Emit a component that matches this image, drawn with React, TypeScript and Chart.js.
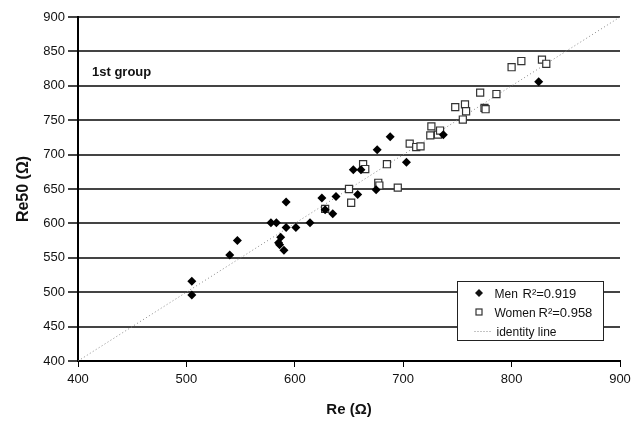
import React, { useEffect, useRef } from 'react';
import { Chart, registerables } from 'chart.js';

Chart.register(...registerables);

// ---- data ----
const menRe = [505, 505, 540, 547, 578, 583, 592, 592, 601, 587, 585, 586, 590, 614, 625, 628, 635, 638, 654, 661, 658, 675, 676, 688, 703, 737, 825];
const menRe50 = [516, 496, 554, 575, 601, 601, 631, 594, 594, 580, 572, 569, 561, 601, 637, 620, 614, 639, 678, 678, 642, 649, 707, 726, 689, 729, 806];

const womenRe = [628, 652, 650, 663, 665, 685, 677, 678, 695, 706, 712, 716, 725, 726, 732, 734, 755, 748, 757, 758, 771, 775, 776, 786, 800, 809, 828, 832];
const womenRe50 = [621, 630, 650, 686, 679, 686, 659, 655, 652, 716, 711, 712, 728, 741, 729, 735, 751, 769, 773, 763, 790, 768, 766, 788, 827, 836, 838, 832];

const identityRe = [400, 900];
const identityRe50 = [400, 900];

const axisMin = 400;
const axisMax = 900;
const xStep = 100;
const yStep = 50;

const xTitle = 'Re (Ω)';
const yTitle = 'Re50 (Ω)';
const groupLabel = '1st group';
const legendItems = [
  { name: 'Men', r2: 'R²=0.919' },
  { name: 'Women', r2: 'R²=0.958' },
  { name: 'identity line', r2: '' },
];

const FONT = '"Liberation Sans", Arial, Helvetica, sans-serif';

const overlayPlugin = {
  id: 'overlay',
  afterDatasetsDraw(chart: any) {
    const ctx = chart.ctx as CanvasRenderingContext2D;
    const area = chart.chartArea;
    ctx.save();
    // group label
    ctx.font = `bold 13px ${FONT}`;
    ctx.fillStyle = '#111';
    ctx.textBaseline = 'middle';
    ctx.textAlign = 'left';
    ctx.fillText(groupLabel, area.left + 14, 72);

    // legend box
    const bx = Math.round(area.right - 163) + 0.5;
    const by = 281.5;
    const bw = 146;
    const bh = 59;
    ctx.fillStyle = '#fff';
    ctx.fillRect(bx, by, bw, bh);
    ctx.strokeStyle = '#222';
    ctx.lineWidth = 1;
    ctx.strokeRect(bx, by, bw, bh);

    const mx = bx + 21.5;
    const rows = [293, 312, 331];
    ctx.fillStyle = '#111';
    // men marker
    ctx.beginPath();
    ctx.moveTo(mx, rows[0] - 4);
    ctx.lineTo(mx + 4, rows[0]);
    ctx.lineTo(mx, rows[0] + 4);
    ctx.lineTo(mx - 4, rows[0]);
    ctx.closePath();
    ctx.fill();
    // women marker
    ctx.strokeStyle = '#333';
    ctx.lineWidth = 1.2;
    ctx.strokeRect(mx - 3, rows[1] - 3, 6, 6);
    // identity line sample
    ctx.strokeStyle = '#888';
    ctx.lineWidth = 1;
    ctx.setLineDash([1, 2]);
    ctx.beginPath();
    ctx.moveTo(bx + 17, rows[2] + 0.5);
    ctx.lineTo(bx + 33, rows[2] + 0.5);
    ctx.stroke();
    ctx.setLineDash([]);

    ctx.fillStyle = '#111';
    ctx.textBaseline = 'alphabetic';
    const off = 4.5;
    ctx.font = `12px ${FONT}`;
    ctx.fillText(legendItems[0].name, bx + 37, rows[0] + off);
    ctx.fillText(legendItems[1].name, bx + 37, rows[1] + off);
    ctx.fillText(legendItems[2].name, bx + 39, rows[2] + off);
    ctx.font = `13px ${FONT}`;
    ctx.fillText(legendItems[0].r2, bx + 65, rows[0] + off);
    ctx.fillText(legendItems[1].r2, bx + 81, rows[1] + off);
    ctx.restore();
  },
};

export default function App() {
  const ref = useRef<HTMLCanvasElement | null>(null);

  useEffect(() => {
    document.body.style.margin = '0';
    const canvas = ref.current;
    if (!canvas) return;
    Chart.defaults.font.family = FONT;
    Chart.defaults.font.size = 13;
    Chart.defaults.color = '#111';

    const chart = new Chart(canvas, {
      type: 'scatter',
      data: {
        datasets: [
          {
            label: 'Men',
            data: menRe.map((x, i) => ({ x, y: menRe50[i] })),
            pointStyle: 'rectRot',
            pointRadius: 4.5,
            backgroundColor: '#000',
            borderColor: '#000',
            borderWidth: 0,
            order: 1,
          },
          {
            label: 'Women',
            data: womenRe.map((x, i) => ({ x, y: womenRe50[i] })),
            pointStyle: 'rect',
            pointRadius: 5,
            backgroundColor: '#fff',
            borderColor: '#333',
            borderWidth: 1.2,
            order: 2,
          },
          {
            type: 'line',
            label: 'identity line',
            data: identityRe.map((x, i) => ({ x, y: identityRe50[i] })),
            borderColor: '#888',
            borderWidth: 1,
            borderDash: [1, 2.5],
            pointRadius: 0,
            showLine: true,
            fill: false,
            order: 3,
          } as any,
        ],
      },
      options: {
        responsive: false,
        animation: false,
        layout: { padding: { left: 0, right: 13, top: 17, bottom: 0 } },
        plugins: { legend: { display: false }, tooltip: { enabled: false } },
        scales: {
          x: {
            type: 'linear',
            min: axisMin,
            max: axisMax,
            ticks: { stepSize: xStep, padding: 5, color: '#111', font: { size: 13 } },
            grid: { drawOnChartArea: false, tickLength: 6, color: '#000', lineWidth: 1 },
            border: { display: true, color: '#000', width: 2 },
            title: { display: true, text: xTitle, font: { size: 15, weight: 'bold' }, color: '#111', padding: { top: 0, bottom: 2 } },
            afterFit: (s: any) => { s.height = 60; s.paddingRight = 0; s.paddingLeft = 0; },
          },
          y: {
            type: 'linear',
            min: axisMin,
            max: axisMax,
            ticks: { stepSize: yStep, padding: 3, color: '#111', font: { size: 13 } },
            grid: { drawOnChartArea: true, tickLength: 10, color: '#444', lineWidth: 2 },
            border: { display: true, color: '#000', width: 2 },
            title: { display: true, text: yTitle, font: { size: 16, weight: 'bold' }, color: '#111', padding: { top: 14, bottom: 0 } },
            afterFit: (s: any) => { s.width = 78; s.paddingTop = 0; s.paddingBottom = 0; },
          },
        },
      },
      plugins: [overlayPlugin],
    });
    return () => chart.destroy();
  }, []);

  return (
    <div style={{ width: 633, height: 421 }}>
      <canvas ref={ref} width={633} height={421} />
    </div>
  );
}
